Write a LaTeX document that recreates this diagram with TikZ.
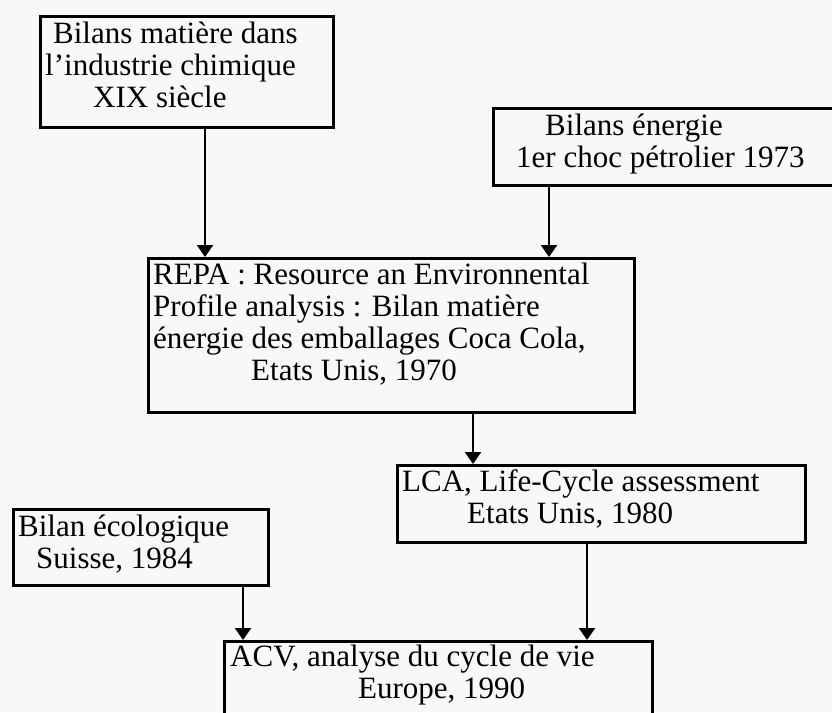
\documentclass[tikz,border=0pt]{standalone}
\usepackage{fontspec}
\setmainfont{Liberation Serif}
\usetikzlibrary{arrows.meta}
\definecolor{paper}{RGB}{248,248,248}
\begin{document}
\begin{tikzpicture}[x=1pt,y=-1pt,
  card/.style={draw, line width=2.5pt, inner sep=0pt, anchor=north west},
  % the base anchor of a multi-line text sits on its last line
  txt/.style={anchor=base west, inner sep=0pt, align=left,
              font=\fontsize{31}{32}\selectfont},
  flow/.style={line width=2.2pt, -{Triangle[width=16pt,length=12pt]}}]
\fill[paper] (0,0) rectangle (832,712);
\useasboundingbox (0,0) rectangle (832,712);
\clip (0,0) rectangle (832,712);

% boxes
\node[card, minimum width=293pt, minimum height=111pt] (hist) at (39,15) {};
\node[card, minimum width=345pt, minimum height=77pt]  (ener) at (492,107) {};
\node[card, minimum width=486pt, minimum height=154pt] (repa) at (147,257) {};
\node[card, minimum width=408pt, minimum height=77pt]  (lca)  at (396,464) {};
\node[card, minimum width=255pt, minimum height=76pt]  (eco)  at (12,508) {};
\node[card, minimum width=428pt, minimum height=90pt]  (acv)  at (223,640) {};

% texts
\node[txt] (histT) at (45,107) {\hspace*{8pt}Bilans matière dans\\ l’industrie chimique\\ \hspace*{48pt}XIX siècle};
\node[txt] (enerT) at (516,167) {\hspace*{29pt}Bilans énergie\\ 1er choc pétrolier 1973};
\node[txt] (repaT) at (153,380) {REPA : Resource an Environnental\\ Profile analysis : Bilan matière\\ énergie des emballages Coca Cola,\\ \hspace*{98pt}Etats Unis, 1970};
\node[txt] (lcaT) at (402,523) {LCA, Life-Cycle assessment\\ \hspace*{65pt}Etats Unis, 1980};
\node[txt] (ecoT) at (18,568) {Bilan écologique\\ \hspace*{18pt}Suisse, 1984};
\node[txt] (acvT) at (230,698) {ACV, analyse du cycle de vie\\ \hspace*{128pt}Europe, 1990};

% connectors
\path (hist.south west) ++(166,0) coordinate (a1);
\path (ener.south west) ++(57,0)  coordinate (a2);
\path (repa.south west) ++(326,0) coordinate (a3);
\path (eco.south west)  ++(231,0) coordinate (a4);
\path (lca.south west)  ++(191,0) coordinate (a5);
\draw[flow] (a1) -- (a1 |- repa.north);
\draw[flow] (a2) -- (a2 |- repa.north);
\draw[flow] (a3) -- (a3 |- lca.north);
\draw[flow] (a4) -- (a4 |- acv.north);
\draw[flow] (a5) -- (a5 |- acv.north);
\end{tikzpicture}
\end{document}
